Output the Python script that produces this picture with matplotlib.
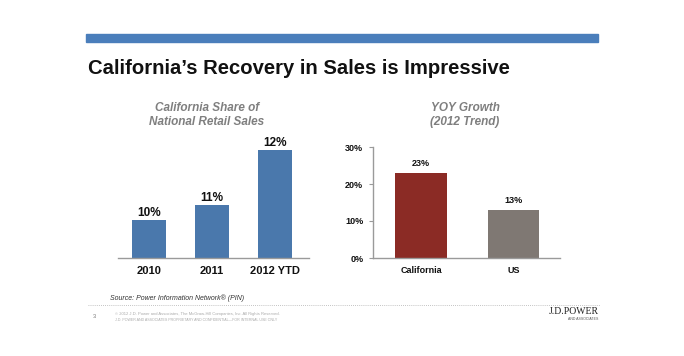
import matplotlib
matplotlib.use("Agg")
import matplotlib.pyplot as plt
from matplotlib.patches import Rectangle
from matplotlib.lines import Line2D

plt.rcParams['font.family'] = ['Liberation Sans', 'DejaVu Sans']

# data
share_years = ["2010", "2011", "2012 YTD"]
share_values = [10.3, 10.6, 11.7]          # % of national retail sales (labels rounded)
growth_regions = ["California", "US"]
growth_values = [23, 13]                   # YOY growth, %

W, H = 684, 356
fig = plt.figure(figsize=(W / 100, H / 100), dpi=100)


def box(x0, y0, x1, y1):
    # pixel box (top-left origin) -> figure fraction rect
    return [x0 / W, 1 - y1 / H, (x1 - x0) / W, (y1 - y0) / H]


def fx(x):
    return x / W


def fy(y):
    return 1 - y / H


# top blue band + headline
fig.patches.append(Rectangle((fx(86), fy(42)), fx(598) - fx(86), fy(34) - fy(42),
                             transform=fig.transFigure, color="#4A7EBB", zorder=0))
fig.text(fx(88), fy(68), "California’s Recovery in Sales is Impressive",
         fontsize=14.6, fontweight="bold", color="#111111", va="center", ha="left")

# left chart: California share
ax1 = fig.add_axes(box(118, 140, 309, 257.5))
x1 = range(len(share_values))
ax1.bar(x1, share_values, width=0.54, color="#4A78AC", zorder=2)
ax1.set_xlim(-0.492, 2.54)
ax1.set_ylim(9.54, 9.54 + 117.5 / 50)
for xi, v in zip(x1, share_values):
    ax1.text(xi, v, f"{v:.0f}%", ha="center", va="bottom", fontsize=8.5,
             fontweight="bold", color="#111111", clip_on=False)
ax1.set_xticks(list(x1))
ax1.set_xticklabels(share_years, fontsize=8, fontweight="bold", color="#111111")
ax1.tick_params(axis="x", length=0, pad=6)
ax1.set_yticks([])
for s in ["top", "right", "left"]:
    ax1.spines[s].set_visible(False)
ax1.spines["bottom"].set_color("#9a9a9a")
ax1.spines["bottom"].set_linewidth(1.0)
ax1.patch.set_visible(False)
fig.text(fx(207), fy(115), "California Share of\nNational Retail Sales", ha="center",
         va="center", fontsize=8.5, fontstyle="italic", fontweight="bold",
         color="#7F7F7F", linespacing=1.25)

# right chart: YOY growth
ax2 = fig.add_axes(box(373, 147, 560, 258))
x2 = range(len(growth_values))
ax2.bar(x2, growth_values, width=0.56, color=["#8B2B25", "#7F7873"], zorder=2)
ax2.set_xlim(-0.519, 1.503)
ax2.set_ylim(0, 30)
for xi, v in zip(x2, growth_values):
    ax2.text(xi, v + 1.3, f"{v}%", ha="center", va="bottom", fontsize=6.5,
             fontweight="bold", color="#111111")
ax2.set_xticks(list(x2))
ax2.set_xticklabels(growth_regions, fontsize=6.5, fontweight="bold", color="#111111")
ax2.tick_params(axis="x", length=0, pad=6)
ax2.set_yticks([0, 10, 20, 30])
ax2.set_yticklabels(["0%", "10%", "20%", "30%"], fontsize=6.5, fontweight="bold",
                    color="#111111")
ax2.tick_params(axis="y", length=3, width=0.8, color="#9a9a9a", pad=4)
for s in ["top", "right"]:
    ax2.spines[s].set_visible(False)
for s in ["left", "bottom"]:
    ax2.spines[s].set_color("#9a9a9a")
    ax2.spines[s].set_linewidth(1.0)
ax2.patch.set_visible(False)
fig.text(fx(465), fy(115), "YOY Growth\n(2012 Trend)", ha="center", va="center",
         fontsize=8.5, fontstyle="italic", fontweight="bold", color="#7F7F7F",
         linespacing=1.25)

# footer
fig.text(fx(110), fy(298), "Source: Power Information Network® (PIN)", fontsize=5,
         fontstyle="italic", color="#333333", va="center")
fig.lines.append(Line2D([fx(88), fx(600)], [fy(305), fy(305)], transform=fig.transFigure,
                        color="#b0b0b0", linewidth=0.6, linestyle=(0, (1, 1.5))))
fig.text(fx(93), fy(317), "3", fontsize=4, color="#777777", va="center")
fig.text(fx(115), fy(314),
         "© 2012 J.D. Power and Associates, The McGraw-Hill Companies, Inc. All Rights Reserved.",
         fontsize=3, color="#aaaaaa", va="center")
fig.text(fx(115), fy(320),
         "J.D. POWER AND ASSOCIATES PROPRIETARY AND CONFIDENTIAL—FOR INTERNAL USE ONLY",
         fontsize=2.6, color="#aaaaaa", va="center")
fig.text(fx(599), fy(311), "J.D.POWER", fontsize=7, family="Liberation Serif",
         color="#222222", ha="right", va="center")
fig.text(fx(598), fy(319), "AND ASSOCIATES", fontsize=2.5, color="#555555",
         ha="right", va="center")

fig.savefig("out.png", dpi=100)
